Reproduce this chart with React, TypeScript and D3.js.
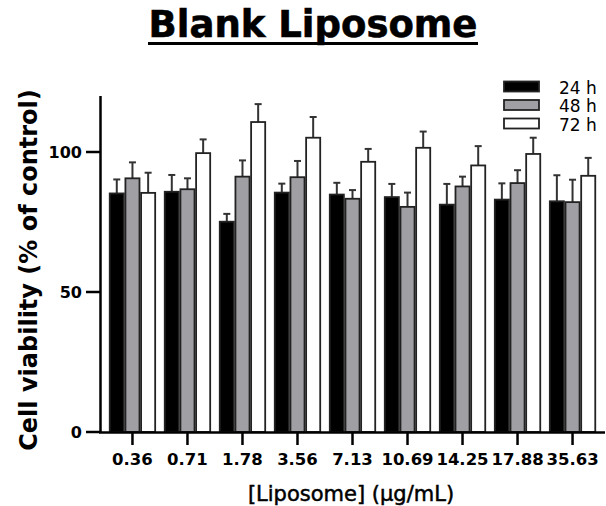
import React from 'react'
import * as d3 from 'd3'

const concentrations = ['0.36', '0.71', '1.78', '3.56', '7.13', '10.69', '14.25', '17.88', '35.63']
const seriesNames = ['24 h', '48 h', '72 h']
const means24 = [85.2, 85.8, 75.1, 85.5, 84.8, 83.9, 81.2, 83.0, 82.4]
const means48 = [90.6, 86.7, 91.2, 91.0, 83.3, 80.4, 87.7, 88.9, 82.1]
const means72 = [85.4, 99.6, 110.7, 105.1, 96.5, 101.5, 95.2, 99.3, 91.5]
const err24 = [5.0, 6.0, 2.8, 3.2, 4.2, 4.7, 7.4, 5.8, 9.3]
const err48 = [5.7, 3.9, 5.8, 5.8, 3.1, 5.1, 3.5, 4.6, 8.0]
const err72 = [7.2, 4.9, 6.4, 7.4, 4.6, 5.8, 6.9, 5.8, 6.4]
const yTicks = [0, 50, 100]

const fills = ['#000000', '#a09fa4', '#ffffff']
const means = [means24, means48, means72]
const errs = [err24, err48, err72]

const W = 606
const H = 506

const App = () => {
  const x = d3
    .scaleBand()
    .domain(concentrations)
    .range([100, 605])
    .paddingInner(0.145)
    .paddingOuter(0.1625)

  const xSub = d3
    .scaleBand()
    .domain(seriesNames)
    .range([0, x.bandwidth()])

  const y = d3.scaleLinear().domain([0, 120]).range([432, 96])

  return (
    <svg width={W} height={H} style={{ position: 'absolute', left: 0, top: 0 }}
      fontFamily="DejaVu Sans, Verdana, sans-serif">
      <rect width={W} height={H} fill="#fff" />

      {/* title */}
      <text x={313} y={37} textAnchor="middle" fontSize={37} fontWeight="bold"
        stroke="#000" strokeWidth={0.6}>Blank Liposome</text>
      <line x1={148} x2={478} y1={43.5} y2={43.5} stroke="#000" strokeWidth={3} />

      {/* bars */}
      {concentrations.map((c, i) => (
        <g key={c} transform={`translate(${x(c)},0)`}>
          {seriesNames.map((s, si) => {
            const v = means[si][i]
            const e = errs[si][i]
            const bx = xSub(s) as number
            const cx = bx + xSub.bandwidth() / 2
            return (
              <g key={s}>
                <line x1={cx} x2={cx} y1={y(v)} y2={y(v + e)} stroke="#333" strokeWidth={2} />
                <line x1={cx - 3.5} x2={cx + 3.5} y1={y(v + e)} y2={y(v + e)} stroke="#333" strokeWidth={2} />
                <rect x={bx + 0.8} y={y(v)} width={xSub.bandwidth() - 1.6} height={y(0) - y(v)}
                  fill={fills[si]} stroke="#222" strokeWidth={1.8} />
              </g>
            )
          })}
        </g>
      ))}

      {/* y axis */}
      <line x1={100.5} x2={100.5} y1={y(120)} y2={y(0) + 1} stroke="#000" strokeWidth={2.5} />
      {yTicks.map((t) => (
        <g key={t}>
          <line x1={86} x2={100} y1={y(t)} y2={y(t)} stroke="#000" strokeWidth={2.5} />
          <text x={82} y={y(t)} dy="0.36em" textAnchor="end" fontSize={16} fontWeight="bold">{t}</text>
        </g>
      ))}
      <text transform={`translate(37,${270}) rotate(-90)`} textAnchor="middle" fontSize={24} fontWeight="bold">
        Cell viability (% of control)
      </text>

      {/* x axis */}
      <line x1={99} x2={605} y1={432.5} y2={432.5} stroke="#000" strokeWidth={2.5} />
      {concentrations.map((c) => {
        const cx = (x(c) as number) + x.bandwidth() / 2
        return (
          <g key={c}>
            <line x1={cx} x2={cx} y1={432} y2={445} stroke="#000" strokeWidth={2.5} />
            <text x={cx} y={465} textAnchor="middle" fontSize={16.5} fontWeight="bold">{c}</text>
          </g>
        )
      })}
      <text x={351} y={501} textAnchor="middle" fontSize={21} stroke="#000" strokeWidth={0.5}>[Liposome] (μg/mL)</text>

      {/* legend */}
      {seriesNames.map((s, si) => (
        <g key={s} transform={`translate(0,${si * 18.5})`}>
          <rect x={504} y={81.5} width={35} height={10} fill={fills[si]} stroke="#222" strokeWidth={1.8} />
          <text x={559} y={93.5} fontSize={17}>{s}</text>
        </g>
      ))}
    </svg>
  )
}

export default App
